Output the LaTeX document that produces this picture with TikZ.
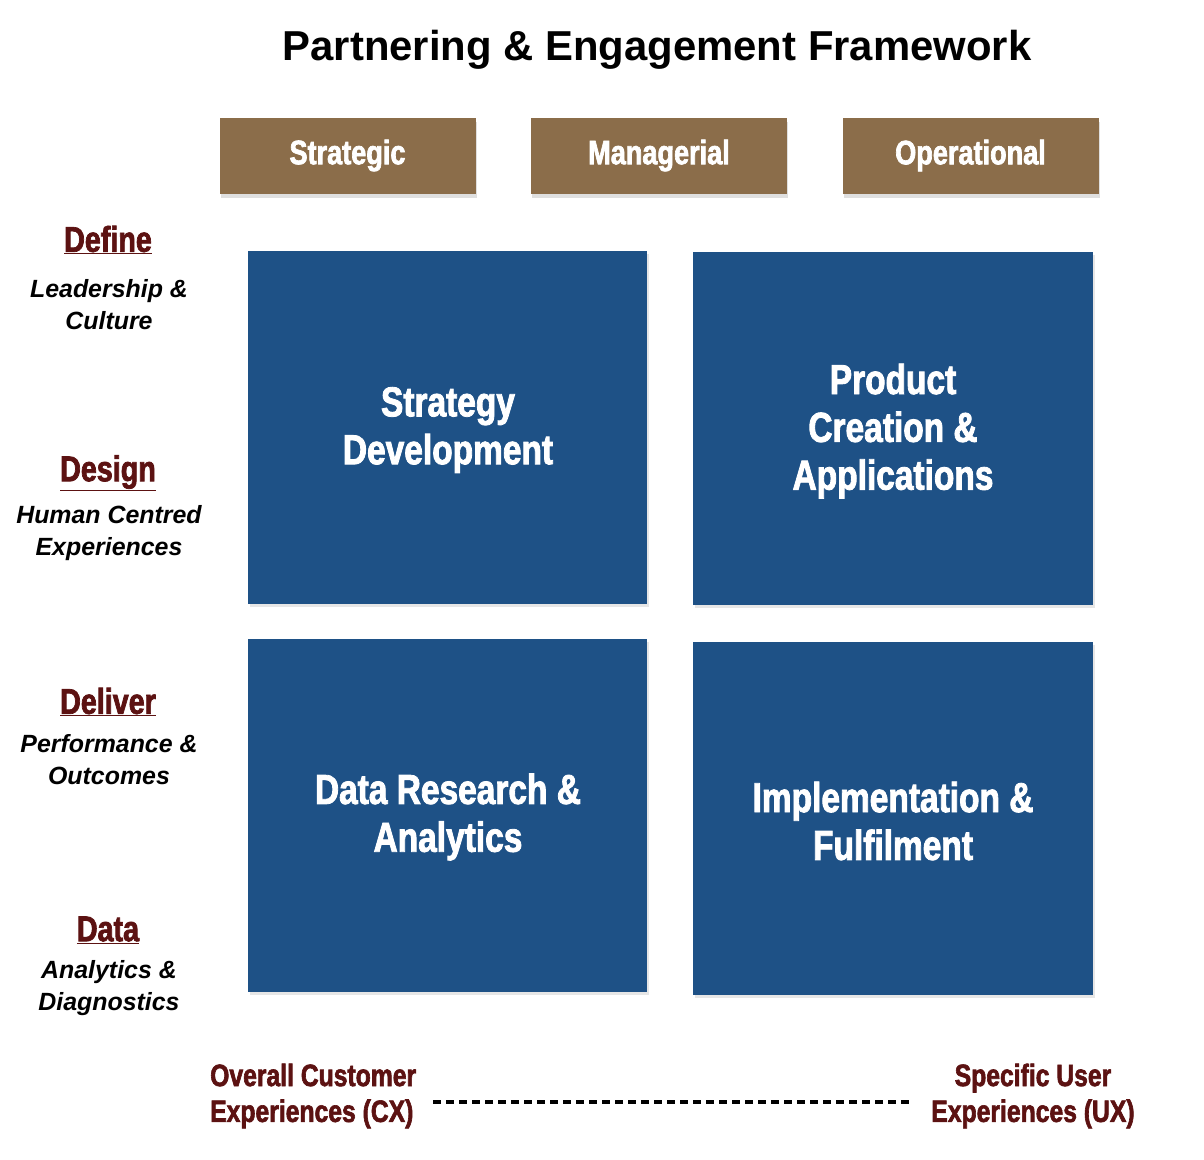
\documentclass[tikz,border=0pt]{standalone}
\usepackage{fontspec}
\setmainfont{Liberation Sans}
\newfontfamily\cond[FakeStretch=0.8,FakeBold=2]{Liberation Sans}
\usetikzlibrary{shadows}
\definecolor{hdrbrown}{HTML}{8B6D4A}
\definecolor{boxblue}{HTML}{1E5186}
\definecolor{darkred}{HTML}{5C1212}
\tikzset{
  hdr/.style={fill=hdrbrown, minimum width=256bp, minimum height=76bp, inner sep=0pt,
    text=white, font=\cond\bfseries\fontsize{34}{36}\selectfont,
    drop shadow={shadow xshift=1bp, shadow yshift=-4bp, opacity=0.25}},
  bigbox/.style={fill=boxblue, inner sep=0pt,
    drop shadow={shadow xshift=2bp, shadow yshift=-2.5bp, opacity=0.2}},
  boxtxt/.style={text=white, align=center, inner sep=0pt,
    font=\cond\bfseries\fontsize{42}{48}\selectfont},
  lhead/.style={text=darkred, inner sep=0pt, font=\cond\bfseries\fontsize{36}{36}\selectfont},
  lsub/.style={align=center, inner sep=0pt, font=\bfseries\itshape\fontsize{25}{32}\selectfont},
  btxt/.style={text=darkred, inner sep=0pt, font=\cond\bfseries\fontsize{31}{36}\selectfont},
}
\begin{document}
\begin{tikzpicture}[x=1bp,y=-1bp]
\useasboundingbox (0,0) rectangle (1204,1160);
\node[inner sep=0pt, font=\bfseries\fontsize{42}{48}\selectfont] (title) at (657,50) {Partnering \& Engagement Framework};
% headers
\node[hdr] (strategic) at (347.5,155.5) {Strategic};
\node[hdr] (managerial) at (659,155.5) {Managerial};
\node[hdr] (operational) at (970.5,155.5) {Operational};
% boxes
\node[bigbox, minimum width=399bp, minimum height=353bp] (tl) at (447.5,427.5) {};
\node[bigbox, minimum width=400bp, minimum height=353bp] (tr) at (893,428.5) {};
\node[bigbox, minimum width=399bp, minimum height=353bp] (bl) at (447.5,815.5) {};
\node[bigbox, minimum width=400bp, minimum height=353bp] (br) at (893,818.5) {};
\node[boxtxt] (tltxt) at (448,430) {Strategy\\Development};
\node[boxtxt] (trtxt) at (893,431) {Product\\Creation \&\\Applications};
\node[boxtxt] (bltxt) at (448,817) {Data Research \&\\Analytics};
\node[boxtxt] (brtxt) at (893,821) {Implementation \&\\Fulfilment};
% left labels
\node[lhead] (define) at (108,240) {\underline{Define}};
\node[lsub] (definesub) at (109,305) {Leadership \&\\Culture};
\node[lhead] (design) at (108,473) {\underline{Design}};
\node[lsub] (designsub) at (109,533) {Human Centred\\Experiences};
\node[lhead] (deliver) at (108,702) {\underline{Deliver}};
\node[lsub] (deliversub) at (109,760) {Performance \&\\Outcomes};
\node[lhead] (data) at (108,930) {\underline{Data}};
\node[lsub] (datasub) at (109,988) {Analytics \&\\Diagnostics};
% bottom
\node[btxt, align=left, anchor=west] (cx) at (210,1096) {Overall Customer\\Experiences (CX)};
\node[btxt, align=center] (ux) at (1033,1096) {Specific User\\Experiences (UX)};
\draw[line width=4bp, dash pattern=on 8bp off 5bp]
  ([xshift=17bp,yshift=-6bp]cx.east) -- ([xshift=-22bp,yshift=-6bp]ux.west);
\end{tikzpicture}
\end{document}
